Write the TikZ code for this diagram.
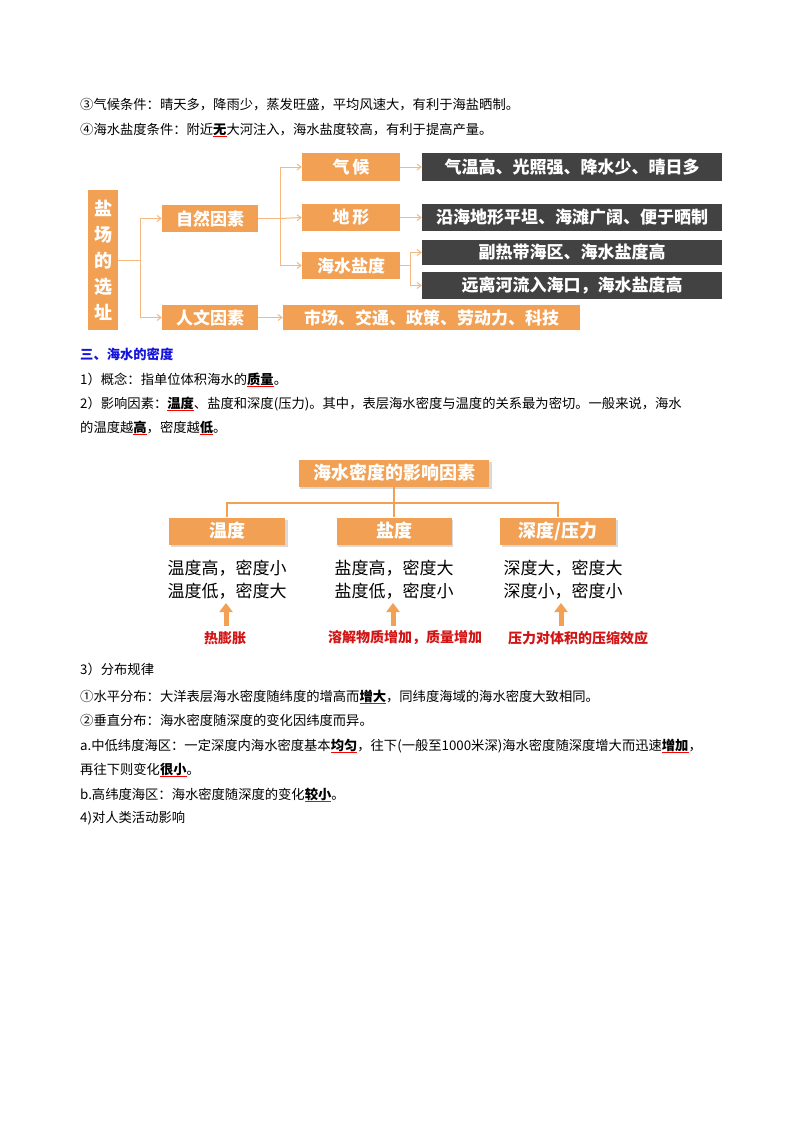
\documentclass[tikz,border=0pt]{standalone}
\usepackage{fontspec}
\setmainfont{Noto Sans CJK SC}
\usetikzlibrary{arrows.meta}
\definecolor{org}{RGB}{241,160,84}
\definecolor{orgl}{RGB}{245,184,128}
\definecolor{drk}{RGB}{66,66,66}
\definecolor{redt}{RGB}{210,20,20}
\definecolor{blu}{RGB}{20,20,220}
\newcommand\kw[1]{\setbox0\hbox{\bfseries #1}\rlap{\color{red}\rule[-2.5pt]{\wd0}{0.8pt}}\box0}
\tikzset{
 body/.style={anchor=base west,inner sep=0pt,font=\fontsize{13.3}{15}\selectfont},
 ob/.style={fill=org,text=white,font=\fontsize{17}{19}\selectfont\bfseries,inner sep=0pt},
 db/.style={fill=drk,text=white,font=\fontsize{17}{19}\selectfont\bfseries,inner sep=0pt},
 ln/.style={draw=orgl,line width=1pt},
 ar/.style={ln,-{Straight Barb[length=4pt,width=6pt]}},
}
\begin{document}
\begin{tikzpicture}[x=1pt,y=-1pt]
\useasboundingbox[fill=white] (0,0) rectangle (800,1132);
% top text
\node[body] (t1) at (80,109) {③气候条件：晴天多，降雨少，蒸发旺盛，平均风速大，有利于海盐晒制。};
\node[body] (t2) at (80,134) {④海水盐度条件：附近\kw{无}大河注入，海水盐度较高，有利于提高产量。};
% diagram 1
\node[ob,minimum width=30pt,minimum height=140pt,align=center,font=\fontsize{18}{26}\selectfont\bfseries] (root) at (103,260) {盐\\场\\的\\选\\址};
\node[ob,minimum width=96pt,minimum height=27pt] (zr) at (210,218.5) {自然因素};
\node[ob,minimum width=96pt,minimum height=25pt] (rw) at (210,317.5) {人文因素};
\node[ob,minimum width=98pt,minimum height=28pt] (qh) at (351,167) {气\,候};
\node[ob,minimum width=98pt,minimum height=27pt] (dx) at (351,217.5) {地\,形};
\node[ob,minimum width=98pt,minimum height=27pt] (hy) at (351,265.5) {海水盐度};
\node[db,minimum width=300pt,minimum height=28pt] (d1) at (572,167) {气温高、光照强、降水少、晴日多};
\node[db,minimum width=300pt,minimum height=27pt] (d2) at (572,217.5) {沿海地形平坦、海滩广阔、便于晒制};
\node[db,minimum width=300pt,minimum height=25pt] (d3) at (572,252.5) {副热带海区、海水盐度高};
\node[db,minimum width=300pt,minimum height=27pt] (d4) at (572,285.5) {远离河流入海口，海水盐度高};
\node[ob,minimum width=297pt,minimum height=25pt] (rw2) at (431.5,317.5) {市场、交通、政策、劳动力、科技};
\coordinate (j1) at (140,260);
\coordinate (j2) at (280,218.5);
\coordinate (j3) at (410,265.5);
\draw[ln] (root.east) -- (j1);
\draw[ar] (j1) |- (zr.west);
\draw[ar] (j1) |- (rw.west);
\draw[ln] (zr.east) -- (j2);
\draw[ar] (j2) |- (qh.west);
\draw[ar] (j2) -- (dx.west);
\draw[ar] (j2) |- (hy.west);
\draw[ar] (qh.east) -- (d1.west);
\draw[ar] (dx.east) -- (d2.west);
\draw[ln] (hy.east) -- (j3);
\draw[ar] (j3) |- (d3.west);
\draw[ar] (j3) |- (d4.west);
\draw[ar] (rw.east) -- (rw2.west);
% middle text
\node[body,text=blu,font=\fontsize{13.3}{15}\selectfont\bfseries] (h3) at (80,359) {三、海水的密度};
\node[body] (p1) at (80,384) {1）概念：指单位体积海水的\kw{质量}。};
\node[body] (p2) at (80,408) {2）影响因素：\kw{温度}、盐度和深度(压力)。其中，表层海水密度与温度的关系最为密切。一般来说，海水};
\node[body] (p3) at (80,432) {的温度越\kw{高}，密度越\kw{低}。};
% diagram 2
\fill[gray!30] (300,462) rectangle (492,489);
\fill[gray!30] (171,520) rectangle (288,547);
\fill[gray!30] (338,520) rectangle (453,547);
\fill[gray!30] (502,520) rectangle (618,547);
\node[ob,minimum width=190pt,minimum height=27pt,font=\fontsize{18}{20}\selectfont\bfseries] (top) at (394,473) {海水密度的影响因素};
\node[ob,minimum width=116pt,minimum height=27pt,font=\fontsize{18}{20}\selectfont\bfseries] (b1) at (227,531) {温度};
\node[ob,minimum width=115pt,minimum height=27pt,font=\fontsize{18}{20}\selectfont\bfseries] (b2) at (394,531) {盐度};
\node[ob,minimum width=116pt,minimum height=27pt,font=\fontsize{18}{20}\selectfont\bfseries] (b3) at (558,531) {深度/压力};
\coordinate (m) at (394,503);
\draw[draw=org,line width=2.5pt] (top.south) -- (m);
\draw[draw=org,line width=2.5pt] (b1.north) |- (m) -| (b3.north);
\draw[draw=org,line width=2.5pt] (m) -- (b2.north);
\tikzset{lb/.style={align=left,font=\fontsize{17}{23}\selectfont,inner sep=0pt}}
\node[lb] (l1) at (227,580) {温度高，密度小\\温度低，密度大};
\node[lb] (l2) at (394,580) {盐度高，密度大\\盐度低，密度小};
\node[lb] (l3) at (563,580) {深度大，密度大\\深度小，密度小};
\tikzset{ua/.style={draw=org,line width=5pt,-{Triangle[width=13pt,length=9pt]}}}
\tikzset{rl/.style={text=redt,font=\fontsize{14}{16}\selectfont\bfseries,inner sep=0pt}}
\node[rl] (r1) at (225,638) {热膨胀};
\node[rl] (r2) at (405,638) {溶解物质增加，质量增加};
\node[rl] (r3) at (578,638) {压力对体积的压缩效应};
\coordinate (a1) at (226,626); \coordinate (a2) at (393,626); \coordinate (a3) at (561,626);
\coordinate (e1) at (226,603); \coordinate (e2) at (393,603); \coordinate (e3) at (561,603);
\draw[ua] (a1) -- (e1);
\draw[ua] (a2) -- (e2);
\draw[ua] (a3) -- (e3);
% bottom text
\node[body] (q1) at (80,674) {3）分布规律};
\node[body] (q2) at (80,701) {①水平分布：大洋表层海水密度随纬度的增高而\kw{增大}，同纬度海域的海水密度大致相同。};
\node[body] (q3) at (80,725) {②垂直分布：海水密度随深度的变化因纬度而异。};
\node[body] (q4) at (80,750) {a.中低纬度海区：一定深度内海水密度基本\kw{均匀}，往下(一般至1000米深)海水密度随深度增大而迅速\kw{增加}，};
\node[body] (q5) at (80,774) {再往下则变化\kw{很小}。};
\node[body] (q6) at (80,799) {b.高纬度海区：海水密度随深度的变化\kw{较小}。};
\node[body] (q7) at (80,822) {4)对人类活动影响};
\end{tikzpicture}
\end{document}
